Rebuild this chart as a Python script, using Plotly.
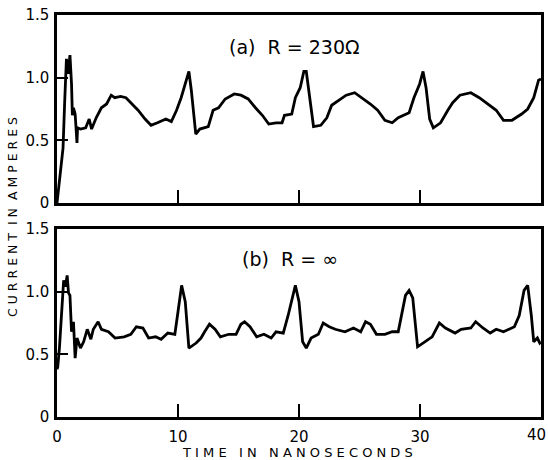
import plotly.graph_objects as go

# ---- data ----
time_a = [0, 0.5, 0.64, 0.72, 0.78, 0.92, 1.07, 1.2, 1.27, 1.36, 1.5, 1.65, 1.7, 1.94, 2.37, 2.66,
          2.86, 3.24, 3.67, 4.1, 4.48, 4.77, 5.26, 5.7, 6.13, 6.7, 7.28, 7.77, 8.3, 9.0, 9.45,
          9.88, 10.26, 10.6, 10.9, 11.1, 11.47, 11.8, 12.5, 12.9, 13.35, 13.9, 14.65, 15.2, 15.8,
          16.4, 16.97, 17.5, 18.1, 18.6, 18.8, 19.4, 19.7, 20.1, 20.4, 20.6, 20.9, 21.2, 21.8,
          22.3, 22.7, 23.3, 23.9, 24.6, 25.2, 25.9, 26.5, 27.1, 27.7, 28.2, 29.1, 29.5, 29.97,
          30.25, 30.5, 30.8, 31.1, 31.7, 32.3, 32.7, 33.3, 34.2, 34.9, 35.6, 36.3, 36.9, 37.6,
          38.4, 38.9, 39.4, 39.8, 40.0]
current_a = [0, 0.44, 0.82, 1.14, 1.15, 1.03, 1.18, 0.95, 0.70, 0.76, 0.71, 0.48, 0.60, 0.59, 0.60, 0.67,
             0.59, 0.68, 0.76, 0.79, 0.86, 0.84, 0.85, 0.84, 0.80, 0.74, 0.67, 0.62, 0.64, 0.67, 0.65,
             0.74, 0.84, 0.95, 1.05, 0.90, 0.55, 0.59, 0.61, 0.74, 0.76, 0.83, 0.87, 0.86, 0.83,
             0.76, 0.70, 0.63, 0.64, 0.64, 0.70, 0.71, 0.84, 0.92, 1.05, 1.05, 0.82, 0.61, 0.62,
             0.68, 0.78, 0.82, 0.86, 0.88, 0.84, 0.79, 0.74, 0.66, 0.64, 0.68, 0.72, 0.84, 0.95,
             1.05, 0.92, 0.67, 0.60, 0.64, 0.74, 0.80, 0.86, 0.88, 0.84, 0.79, 0.74, 0.66, 0.66,
             0.71, 0.75, 0.84, 0.98, 0.99]

time_b = [0, 0.06, 0.2, 0.43, 0.55, 0.69, 0.84, 0.95, 1.07, 1.2, 1.36, 1.5, 1.65, 1.94, 2.2, 2.5,
          2.8, 3.0, 3.4, 3.67, 4.25, 4.8, 5.55, 6.1, 6.56, 7.1, 7.57, 8.15, 8.6, 9.16, 9.74, 10.0,
          10.3, 10.6, 10.9, 11.5, 11.9, 12.2, 12.6, 13.06, 13.5, 14.2, 14.8, 15.2, 15.5, 15.95,
          16.5, 17.1, 17.7, 18.1, 18.7, 19.1, 19.7, 20.0, 20.3, 20.6, 21.0, 21.6, 22.0, 22.5,
          23.0, 23.8, 24.5, 25.1, 25.5, 25.9, 26.4, 27.1, 27.7, 28.2, 28.8, 29.1, 29.4, 29.8,
          30.4, 31.0, 31.6, 32.1, 32.9, 33.4, 34.2, 34.6, 35.2, 35.8, 36.3, 36.9, 37.8, 38.2,
          38.6, 38.9, 39.2, 39.4, 39.7, 39.9, 40.0]
current_b = [0.38, 0.40, 0.55, 0.95, 1.09, 1.04, 1.13, 0.99, 0.97, 0.68, 0.76, 0.47, 0.63, 0.55, 0.60, 0.70,
             0.62, 0.70, 0.76, 0.70, 0.68, 0.63, 0.64, 0.66, 0.72, 0.71, 0.63, 0.64, 0.62, 0.67, 0.66, 0.84,
             1.05, 0.92, 0.55, 0.59, 0.63, 0.68, 0.74, 0.70, 0.64, 0.66, 0.66, 0.74, 0.76, 0.72,
             0.64, 0.66, 0.63, 0.68, 0.67, 0.81, 1.05, 0.92, 0.60, 0.55, 0.63, 0.66, 0.75, 0.72,
             0.70, 0.68, 0.71, 0.68, 0.76, 0.74, 0.66, 0.66, 0.68, 0.68, 0.97, 1.01, 0.95, 0.56,
             0.60, 0.64, 0.75, 0.71, 0.67, 0.70, 0.71, 0.76, 0.71, 0.67, 0.70, 0.68, 0.72, 0.81,
             1.01, 1.05, 0.81, 0.60, 0.63, 0.59, 0.60]

y_ticks = [0, 0.5, 1.0, 1.5]
y_tick_text = ["0", "0.5", "1.0", "1.5"]
x_ticks = [0, 10, 20, 30, 40]
x_tick_text = ["0", "10", "20", "30", ""]   # last label drawn separately so it stays inside the page
x_last_label = "40"

label_a = "(a)  R = 230Ω"
label_b = "(b)  R = ∞"
x_title = "T I M E   I N   N A N O S E C O N D S"
y_title = "C U R R E N T  I N  A M P E R E S"

# ---- figure ----
W, H = 548, 460
def px(x):
    return x / W
def py(y):
    return 1 - y / H

FONT = "DejaVu Sans"
fig = go.Figure()
fig.add_trace(go.Scatter(x=time_a, y=current_a, mode="lines",
                         line=dict(color="black", width=2.8), xaxis="x", yaxis="y",
                         showlegend=False, hoverinfo="skip"))
fig.add_trace(go.Scatter(x=time_b, y=current_b, mode="lines",
                         line=dict(color="black", width=2.8), xaxis="x2", yaxis="y2",
                         showlegend=False, hoverinfo="skip"))

common_x = dict(range=[0, 40], tickvals=x_ticks, ticktext=x_tick_text, ticks="inside",
                ticklen=13, tickwidth=2, tickcolor="black", showgrid=False, zeroline=False,
                showline=True, linecolor="black", linewidth=2.5, mirror=True, automargin=False,
                ticklabeloverflow="allow",
                tickfont=dict(family=FONT, size=15, color="black"))
common_y = dict(range=[0, 1.5], tickvals=y_ticks, ticktext=y_tick_text, ticks="inside",
                ticklen=11, tickwidth=2, tickcolor="black", showgrid=False, zeroline=False,
                showline=True, linecolor="black", linewidth=2.5, mirror=True, automargin=False,
                ticklabeloverflow="allow",
                tickfont=dict(family=FONT, size=15, color="black"), ticklabelstandoff=2)

xd = [px(57), px(541)]
ann_common = dict(xref="paper", yref="paper", xanchor="center", yanchor="middle", showarrow=False)
fig.update_layout(
    width=W, height=H, autosize=False,
    margin=dict(l=0, r=0, t=0, b=0, pad=0, autoexpand=False),
    paper_bgcolor="white", plot_bgcolor="white",
    xaxis=dict(domain=xd, anchor="y", showticklabels=False, **common_x),
    yaxis=dict(domain=[py(203), py(15)], anchor="x", **common_y),
    xaxis2=dict(domain=xd, anchor="y2", showticklabels=True, ticklabelstandoff=4, **common_x),
    yaxis2=dict(domain=[py(417), py(229)], anchor="x2", **common_y),
    annotations=[
        dict(text=label_a, x=px(294), y=py(47), font=dict(family=FONT, size=19, color="black"),
             **ann_common),
        dict(text=label_b, x=px(290), y=py(259), font=dict(family=FONT, size=19, color="black"),
             **ann_common),
        dict(text=x_title, x=px(298), y=py(452), font=dict(family=FONT, size=13, color="black"),
             **ann_common),
        dict(text=y_title, x=px(12), y=py(217), textangle=-90,
             font=dict(family=FONT, size=12.5, color="black"), **ann_common),
        dict(text=x_last_label, x=1.0, y=py(435), xref="paper", yref="paper",
             xanchor="right", yanchor="middle", showarrow=False,
             font=dict(family=FONT, size=15, color="black")),
    ],
)

fig.write_html("out.html", config={"displayModeBar": False},
               post_script="document.body.style.margin='0px';document.body.style.overflow='hidden';")
